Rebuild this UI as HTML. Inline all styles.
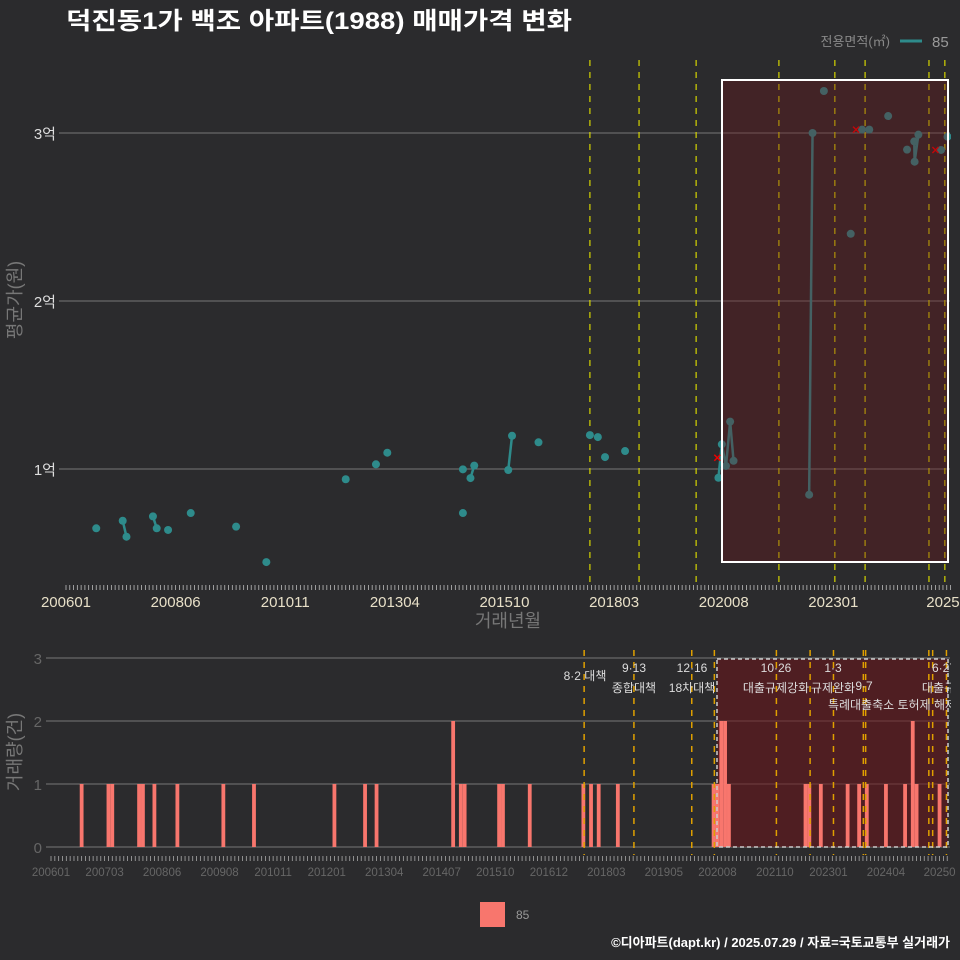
<!DOCTYPE html>
<html><head><meta charset="utf-8"><style>
html,body{margin:0;padding:0;background:#2b2b2d;}
svg{display:block;font-family:"Liberation Sans","Noto Sans CJK KR",sans-serif;}
</style></head><body>
<svg id="c" width="960" height="960" viewBox="0 0 960 960" xmlns="http://www.w3.org/2000/svg">
<rect width="960" height="960" fill="#2b2b2d"/>
<text x="66" y="29" fill="#fff" font-size="24" font-weight="bold" textLength="506" lengthAdjust="spacingAndGlyphs">덕진동1가 백조 아파트(1988) 매매가격 변화</text>
<g>
<text x="890" y="46" fill="#888" font-size="13" text-anchor="end">전용면적(㎡)</text>
<line x1="900" y1="41" x2="922" y2="41" stroke="#2e8b8b" stroke-width="3"/>
<text x="932" y="47" fill="#999" font-size="15">85</text>
</g>
<defs>
<clipPath id="topclip"><rect x="59" y="55" width="892" height="530"/></clipPath>
<clipPath id="botclip"><rect x="46" y="650" width="905" height="205"/></clipPath>
</defs>
<g id="topPanel"></g>
<g id="botPanel"></g>
<text transform="translate(21,300) rotate(-90)" fill="#777" font-size="18" text-anchor="middle">평균가(원)</text>
<text x="508" y="627" fill="#777" font-size="18" text-anchor="middle">거래년월</text>
<text transform="translate(21,752) rotate(-90)" fill="#777" font-size="18" text-anchor="middle">거래량(건)</text>
<g>
<rect x="480" y="902" width="25" height="25" fill="#f8766d"/>
<text x="516" y="919" fill="#999" font-size="12">85</text>
</g>
<text x="950" y="947" fill="#fff" font-size="13" font-weight="bold" text-anchor="end">©디아파트(dapt.kr) / 2025.07.29 / 자료=국토교통부 실거래가</text>
</svg>
<script>
// month index: 0 = 2006-01
const priceMonths = [8,15,16,23,24,27,33,45,53,74,82,85,105,105,107,108,117,118,125,138.6,140.7,142.6,147.9,172.6,173.5,174.6,175.7,176.6,196.6,197.5,200.5,207.6,210.6,212.5,217.5,222.5,224.4,224.5,225.5,231.5,233.2];
const priceValues = [6470,6920,5970,7180,6470,6370,7380,6570,4460,9390,10280,10970,7380,9980,9460,10200,9940,11980,11590,12020,11900,10710,11070,9480,11470,10180,12820,10490,8470,30000,32500,24000,30200,30200,31010,29010,29500,28290,29900,28990,29780];
const cancelMonths = [172.3,209,230];
const cancelValues = [10670,30200,28990];
const yTickValues = [10000,20000,30000];
const yTickLabels = ["1억","2억","3억"];
const xTickMonths = [0,29,58,87,116,145,174,203,232];
const xTickLabels = ["200601","200806","201011","201304","201510","201803","202008","202301","2025"];
const policyTopMonths = [138.6,151.6,166.7,188.6,203.4,211.4,228.3,232.5];
const volMonths = [8,15,16,23,24,27,33,45,53,74,82,85,105,107,108,117,118,125,139,141,143,148,173,174,175,176,177,197,198,201,208,211,213,218,223,225,226,232];
const volCounts = [1,1,1,1,1,1,1,1,1,1,1,1,2,1,1,1,1,1,1,1,1,1,1,1,2,2,1,1,1,1,1,1,1,1,1,2,1,1];
const volTickMonths = [0,14,29,44,58,72,87,102,116,130,145,160,174,189,203,218,232];
const volTickLabels = ["200601","200703","200806","200908","201011","201201","201304","201407","201510","201612","201803","201905","202008","202110","202301","202404","20250"];
const policyBotMonths = [139.2,152.2,167.3,173.2,189.4,198.2,204.3,212.1,212.7,229.2,230.2,233.8];
const annLabels = [["8·2 대책",585,680],["9·13",634,672],["종합대책",634,692],["12·16",692,672],["18차대책",692,692],["10·26",776,672],["대출규제강화",776,692],["1·3",833,672],["규제완화",833,692],["9·7",864,690],["특례대출축소 토허제 해제",892,709],["6·27",944,672],["대출규제",944,692]];

const NS="http://www.w3.org/2000/svg";
function mk(p,t,a){const e=document.createElementNS(NS,t);for(const k in a)e.setAttribute(k,a[k]);p.appendChild(e);return e;}
const xT=m=>66+m*3.78;
const yT=v=>469-(v-10000)*0.0168;
const xB=m=>51+m*3.83;
const yB=c=>847-c*63;

const topG=document.getElementById('topPanel');
yTickValues.forEach((v,i)=>{
  const g=mk(topG,'line',{x1:59,x2:950,y1:yT(v),y2:yT(v),stroke:'#777','stroke-width':1});
  
  
  const t=mk(topG,'text',{x:56,y:yT(v)+6,fill:'#ddd','font-size':15,'text-anchor':'end'});
  t.textContent=yTickLabels[i];
  
  
});
for(let m=0;m<=234;m++){mk(topG,'line',{x1:xT(m),x2:xT(m),y1:585,y2:590,stroke:'#bbb','stroke-width':0.8});}
xTickMonths.forEach((m,i)=>{
  const t=mk(topG,'text',{x:xT(m),y:607,fill:'#e8e0c8','font-size':15,'text-anchor':'middle'});
  t.textContent=xTickLabels[i];
  
  
});
const tp=mk(topG,'g',{'clip-path':'url(#topclip)'});
policyTopMonths.forEach(m=>{
  const l=mk(tp,'line',{x1:xT(m),x2:xT(m),y1:60,y2:585,stroke:'#d4d400','stroke-width':1.2,'stroke-dasharray':'6,6'});
  
  
});
for(let i=1;i<priceMonths.length;i++){
  const d=priceMonths[i]-priceMonths[i-1];
  if(d>0 && d<1.5){
    const l=mk(tp,'line',{x1:xT(priceMonths[i-1]),y1:yT(priceValues[i-1]),x2:xT(priceMonths[i]),y2:yT(priceValues[i]),stroke:'#2e8b8b','stroke-width':2.5});
    
    
  }
}
priceMonths.forEach((m,i)=>{
  const c=mk(tp,'circle',{cx:xT(m),cy:yT(priceValues[i]),r:4,fill:'#2e8b8b'});
  
  
});
cancelMonths.forEach((m,i)=>{
  const x=xT(m),y=yT(cancelValues[i]);
  const p=mk(tp,'path',{d:`M${x-3},${y-3}L${x+3},${y+3}M${x+3},${y-3}L${x-3},${y+3}`,stroke:'#e00','stroke-width':1.5});
  
  
});
const hr=mk(topG,'rect',{x:722,y:80,width:226,height:482,fill:'rgba(110,20,25,0.35)',stroke:'#fff','stroke-width':2});



const botG=document.getElementById('botPanel');
[0,1,2,3].forEach(c=>{
  const g=mk(botG,'line',{x1:46,x2:950,y1:yB(c),y2:yB(c),stroke:'#777','stroke-width':1});
  
  
  const t=mk(botG,'text',{x:42,y:yB(c)+6,fill:'#666','font-size':15,'text-anchor':'end'});
  t.textContent=String(c);
  
  
});
for(let m=0;m<=234;m++){mk(botG,'line',{x1:xB(m),x2:xB(m),y1:856,y2:861,stroke:'#aaa','stroke-width':0.8});}
volTickMonths.forEach((m,i)=>{
  const t=mk(botG,'text',{x:xB(m),y:876,fill:'#666','font-size':11.5,'text-anchor':'middle'});
  t.textContent=volTickLabels[i];
  
  
});
const bp=mk(botG,'g',{'clip-path':'url(#botclip)'});
const br=mk(bp,'rect',{x:717,y:659,width:231,height:188,fill:'rgba(110,20,25,0.55)'});


volMonths.forEach((m,i)=>{
  const b=mk(bp,'rect',{x:xB(m)-1.9,y:yB(volCounts[i]),width:3.8,height:volCounts[i]*63,fill:'#f8766d'});
  
  
});
policyBotMonths.forEach(m=>{
  const l=mk(bp,'line',{x1:xB(m),x2:xB(m),y1:650,y2:858,stroke:'#e0a000','stroke-width':1.5,'stroke-dasharray':'6,6'});
  
  
});
mk(bp,'rect',{x:717,y:659,width:231,height:188,fill:'none',stroke:'#ccc','stroke-width':1.5,'stroke-dasharray':'4,3'});
annLabels.forEach(a=>{
  const t=mk(bp,'text',{x:a[1],y:a[2],fill:'#ddd','font-size':12,'text-anchor':'middle'});
  t.textContent=a[0];
  
  
});
</script>
</body></html>
